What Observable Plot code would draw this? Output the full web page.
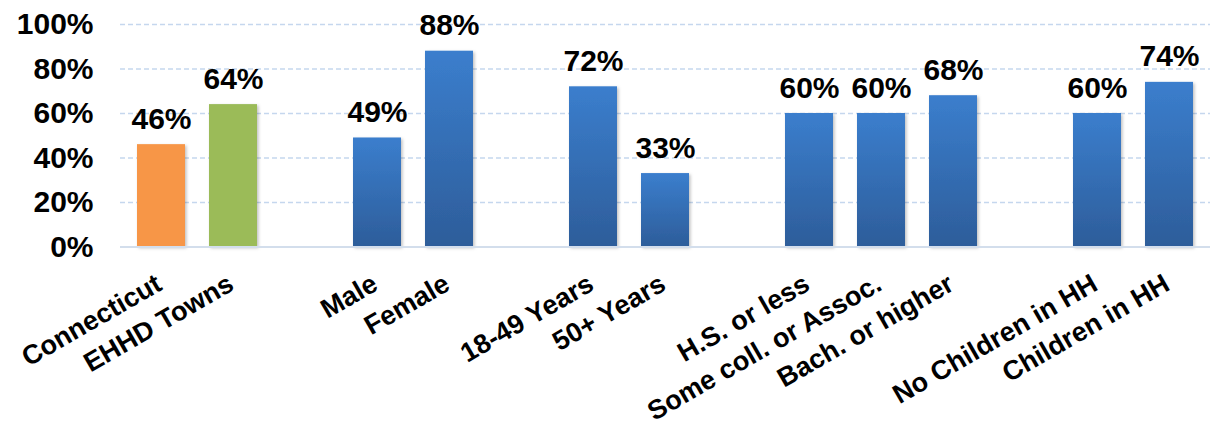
<!DOCTYPE html>
<html>
<head>
<meta charset="utf-8">
<script src="https://cdn.jsdelivr.net/npm/d3@7"></script>
<script src="https://cdn.jsdelivr.net/npm/@observablehq/plot@0.6"></script>
<style>
  html, body { margin: 0; padding: 0; background: #fff; }
  #chart svg { display: block; }
</style>
</head>
<body>
<div id="chart"></div>
<script>
// Data
const categories = ["Connecticut", "EHHD Towns", "Male", "Female", "18-49 Years", "50+ Years",
  "H.S. or less", "Some coll. or Assoc.", "Bach. or higher", "No Children in HH", "Children in HH"];
const values = [0.46, 0.64, 0.49, 0.88, 0.72, 0.33, 0.60, 0.60, 0.68, 0.60, 0.74];
const groups = [0, 0, 1, 1, 2, 2, 3, 3, 3, 4, 4];
const yTicks = [0, 0.2, 0.4, 0.6, 0.8, 1.0];

// Build band domain with empty slots between groups
const domain = [];
const rows = [];
categories.forEach((c, i) => {
  if (i > 0 && groups[i] !== groups[i - 1]) domain.push("gap" + groups[i]);
  domain.push(c);
  rows.push({cat: c, value: values[i], group: groups[i], idx: i});
});

const fillFor = d => d.idx === 0 ? "#F79646" : d.idx === 1 ? "#9BBB59" : "url(#blueGrad)";

const font = "'Liberation Sans', Arial, Helvetica, sans-serif";

const chart = Plot.plot({
  width: 1212,
  height: 428,
  marginLeft: 120,
  marginRight: 2,
  marginTop: 24,
  marginBottom: 181.5,
  style: {fontFamily: font, fontWeight: "bold", color: "#000", background: "#fff"},
  x: {type: "band", domain, paddingInner: 0.33, paddingOuter: 0.165, axis: null},
  y: {domain: [0, 1], axis: null},
  marks: [
    Plot.ruleY(yTicks.filter(t => t > 0), {stroke: "#c5d7ee", strokeWidth: 1.6, strokeDasharray: "5,3"}),
    Plot.barY(rows, {x: "cat", y: "value", fill: fillFor}),
    Plot.ruleY([0], {stroke: "#d3deec", strokeWidth: 2}),
    Plot.text(rows, {x: "cat", y: "value", text: d => Math.round(d.value * 100) + "%",
      lineAnchor: "bottom", dy: -16, fontSize: 30, fontWeight: "bold", fill: "#000"}),
    Plot.text(rows, {x: "cat", text: "cat", frameAnchor: "bottom", rotate: -30,
      textAnchor: "end", lineAnchor: "bottom", dx: 2, dy: 42, fontSize: 27, fontWeight: "bold", fill: "#000"}),
    Plot.axisY({ticks: yTicks, tickFormat: d => Math.round(d * 100) + "%", tickSize: 0, tickPadding: 27,
      fontSize: 30, fontWeight: "bold", label: null})
  ]
});

// gradient + shadow defs
const ns = "http://www.w3.org/2000/svg";
const defs = document.createElementNS(ns, "defs");
defs.innerHTML = `
  <linearGradient id="blueGrad" x1="0" y1="0" x2="0" y2="1">
    <stop offset="0" stop-color="#3B7ECD"/>
    <stop offset="1" stop-color="#2D5D9A"/>
  </linearGradient>
  <filter id="barShadow" x="-20%" y="-10%" width="150%" height="130%">
    <feDropShadow dx="1.5" dy="1.5" stdDeviation="1.5" flood-color="#000" flood-opacity="0.25"/>
  </filter>`;
chart.insertBefore(defs, chart.firstChild);
chart.querySelectorAll("g[aria-label='bar'] rect").forEach(r => r.setAttribute("filter", "url(#barShadow)"));

document.getElementById("chart").appendChild(chart);
</script>
</body>
</html>
